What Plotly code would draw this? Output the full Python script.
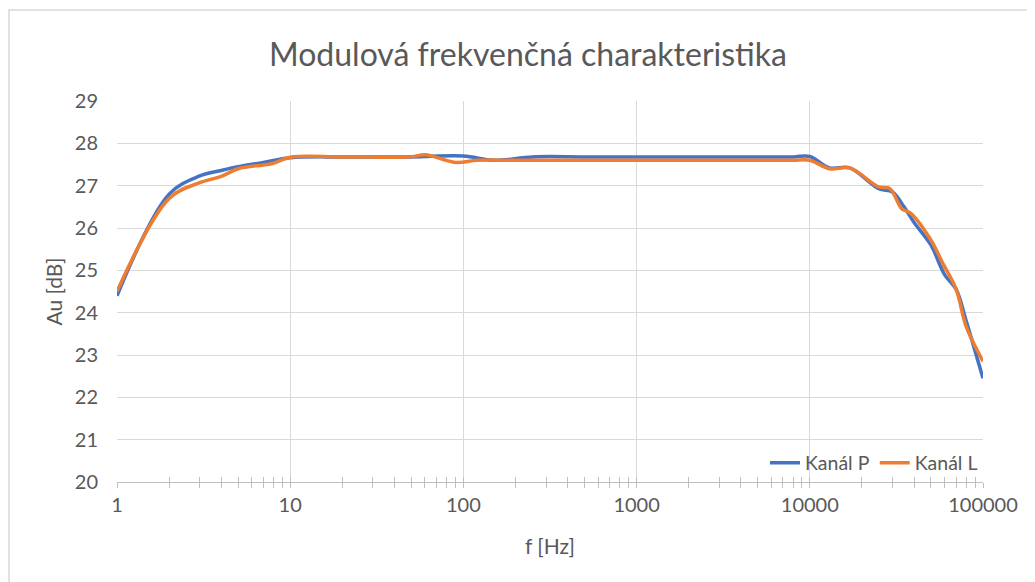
import plotly.graph_objects as go

# ---- data ----
freq_p = [1, 2, 3, 4, 5, 7, 10, 20, 50, 100, 150, 250, 500, 1000, 2000, 5000, 8000,
          10000, 13000, 17000, 25000, 30000, 35000, 40000, 50000, 60000, 70000, 80000,
          100000]
au_p = [24.4, 26.8, 27.23, 27.36, 27.45, 27.55, 27.66, 27.68, 27.68, 27.70, 27.60,
        27.68, 27.68, 27.68, 27.68, 27.68, 27.68, 27.69, 27.42, 27.42, 26.93, 26.85,
        26.5, 26.13, 25.6, 24.9, 24.55, 23.8, 22.45]

freq_l = [1, 2, 3, 4, 5, 7, 8, 10, 20, 50, 60, 90, 120, 200, 500, 1000, 2000, 5000,
          8000, 10000, 13000, 17000, 25000, 29000, 34000, 38000, 50000, 58000, 70000,
          80000, 100000]
au_l = [24.5, 26.7, 27.07, 27.22, 27.4, 27.49, 27.53, 27.67, 27.68, 27.68, 27.73,
        27.55, 27.6, 27.6, 27.6, 27.6, 27.6, 27.6, 27.6, 27.6, 27.4, 27.42, 26.97,
        26.93, 26.45, 26.36, 25.72, 25.2, 24.55, 23.67, 22.85]

x_ticks = [1, 10, 100, 1000, 10000, 100000]
x_ticklabels = ["1", "10", "100", "1000", "10000", "100000"]
x_minor = [m * d for d in [1, 10, 100, 1000, 10000] for m in range(2, 10)]

title = "Modulová frekvenčná charakteristika"
x_title = "f [Hz]"
y_title = "Au [dB]"
names = ["Kanál P", "Kanál L"]

# ---- style ----
OFF = 8  # page body margin
W, H = 1035 - OFF, 582 - OFF
L = 117 - OFF
T = 101 - OFF
R = W - (983 - OFF)
B = H - (482 - OFF)
FONT = "Lato, Open Sans, sans-serif"
TXT = "#595959"
GRID = "#d9d9d9"
AXIS = "#bfbfbf"
BLUE = "#4472C4"
ORANGE = "#ED7D31"

pw = W - L - R
ph = H - T - B

fig = go.Figure()
fig.add_trace(go.Scatter(x=freq_p, y=au_p, name=names[0], mode="lines",
                         line=dict(color=BLUE, width=3.5, shape="spline", smoothing=1)))
fig.add_trace(go.Scatter(x=freq_l, y=au_l, name=names[1], mode="lines",
                         line=dict(color=ORANGE, width=3.5, shape="spline", smoothing=1)))
# helper trace on the overlaid axis (draws the inward half of the tick marks)
fig.add_trace(go.Scatter(x=[freq_p[0]], y=[au_p[0]], xaxis="x2", yaxis="y",
                         mode="markers", showlegend=False, hoverinfo="skip",
                         marker=dict(size=1, opacity=0)))

fig.update_layout(
    width=W, height=H,
    margin=dict(l=L, r=R, t=T, b=B, autoexpand=False),
    paper_bgcolor="white", plot_bgcolor="white",
    font=dict(family=FONT, color=TXT, size=20),
    title=dict(text=title, x=(528 - OFF) / W, xanchor="center",
               y=1 - (55 - OFF) / H, yanchor="middle",
               font=dict(size=32, color=TXT, family=FONT)),
    xaxis=dict(type="log", range=[0, 5], tickvals=x_ticks, ticktext=x_ticklabels,
               showgrid=True, gridcolor=GRID, gridwidth=1,
               showline=True, linecolor=AXIS, linewidth=1,
               ticks="outside", ticklen=5, tickcolor=AXIS,
               minor=dict(tickvals=x_minor, ticks="outside", ticklen=5,
                          tickcolor=AXIS, showgrid=False),
               zeroline=False,
               title=dict(text=x_title, standoff=24, font=dict(size=21, color=TXT)),
               tickfont=dict(size=20, color=TXT)),
    xaxis2=dict(type="log", range=[0, 5], overlaying="x", anchor="y",
                side="bottom", showticklabels=False, showgrid=False, showline=False,
                tickvals=x_ticks, ticks="inside", ticklen=5, tickcolor=AXIS,
                minor=dict(tickvals=x_minor, ticks="inside", ticklen=5,
                           tickcolor=AXIS, showgrid=False),
                zeroline=False),
    yaxis=dict(range=[20, 29], dtick=1, showgrid=True, gridcolor=GRID, gridwidth=1,
               showline=False, zeroline=False, ticks="", ticklabelstandoff=18,
               title=dict(text=y_title, standoff=6, font=dict(size=21, color=TXT)),
               tickfont=dict(size=20, color=TXT)),
    legend=dict(orientation="h", x=1, xanchor="right", y=(482 - 463) / ph,
                yanchor="middle", bgcolor="rgba(0,0,0,0)",
                font=dict(size=19.5, color=TXT), itemwidth=30,
                tracegroupgap=0),
    showlegend=True,
)

# outer chart-area border
fig.add_shape(type="rect", xref="paper", yref="paper",
              x0=(1 - L) / pw, x1=(W + 10 - L) / pw,
              y0=-(B + 20) / ph, y1=1 + (T - 2) / ph,
              line=dict(color=GRID, width=1.5), fillcolor="rgba(0,0,0,0)", layer="below")

fig.write_html("out.html")
